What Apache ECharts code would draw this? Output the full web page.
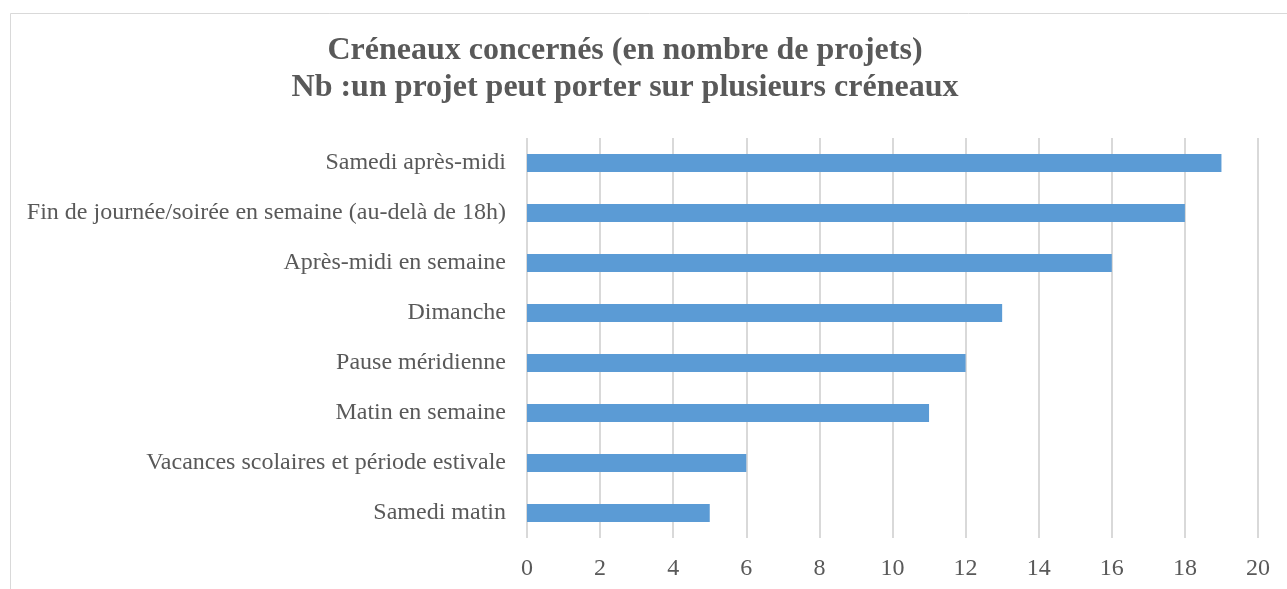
<!DOCTYPE html>
<html>
<head>
<meta charset="utf-8">
<script src="https://cdn.jsdelivr.net/npm/echarts@6/dist/echarts.min.js"></script>
<style>
html,body{margin:0;padding:0;background:#fff;}
#main{width:1287px;height:589px;}
</style>
</head>
<body>
<div id="main"></div>
<script>
var categories = ["Samedi matin", "Vacances scolaires et période estivale", "Matin en semaine",
    "Pause méridienne", "Dimanche", "Après-midi en semaine",
    "Fin de journée/soirée en semaine (au-delà de 18h)", "Samedi après-midi"];
var values = [5, 6, 11, 12, 13, 16, 18, 19];
var titleLines = ["Créneaux concernés (en nombre de projets)", "Nb :un projet peut porter sur plusieurs créneaux"];

var chart = echarts.init(document.getElementById("main"));
var serif = "'Liberation Serif', 'Times New Roman', serif";

chart.setOption({
    backgroundColor: "#fff",
    animation: false,
    graphic: [{
        type: "rect",
        left: 8, top: 11,
        shape: {width: 1300, height: 600},
        style: {fill: "none", stroke: "#d9d9d9", lineWidth: 1}
    }],
    title: {
        text: titleLines.join("\n"),
        left: 620,
        textAlign: "center",
        top: 27,
        textStyle: {
            fontFamily: serif,
            fontWeight: "bold",
            fontSize: 32,
            color: "#595959",
            lineHeight: 37
        }
    },
    grid: {left: 527, right: 29, top: 138, bottom: 51, containLabel: false},
    xAxis: {
        type: "value",
        min: 0, max: 20, interval: 2,
        axisLine: {show: false},
        axisTick: {show: false},
        axisLabel: {fontFamily: serif, fontSize: 24, color: "#595959", margin: 19},
        splitLine: {show: true, lineStyle: {color: "#d9d9d9", width: 2}}
    },
    yAxis: {
        type: "category",
        data: categories,
        axisLine: {show: false},
        axisTick: {show: false},
        axisLabel: {fontFamily: serif, fontSize: 24, color: "#595959", margin: 21}
    },
    series: [{
        type: "bar",
        data: values,
        barWidth: 18,
        itemStyle: {color: "#5b9bd5"}
    }]
});
</script>
</body>
</html>
